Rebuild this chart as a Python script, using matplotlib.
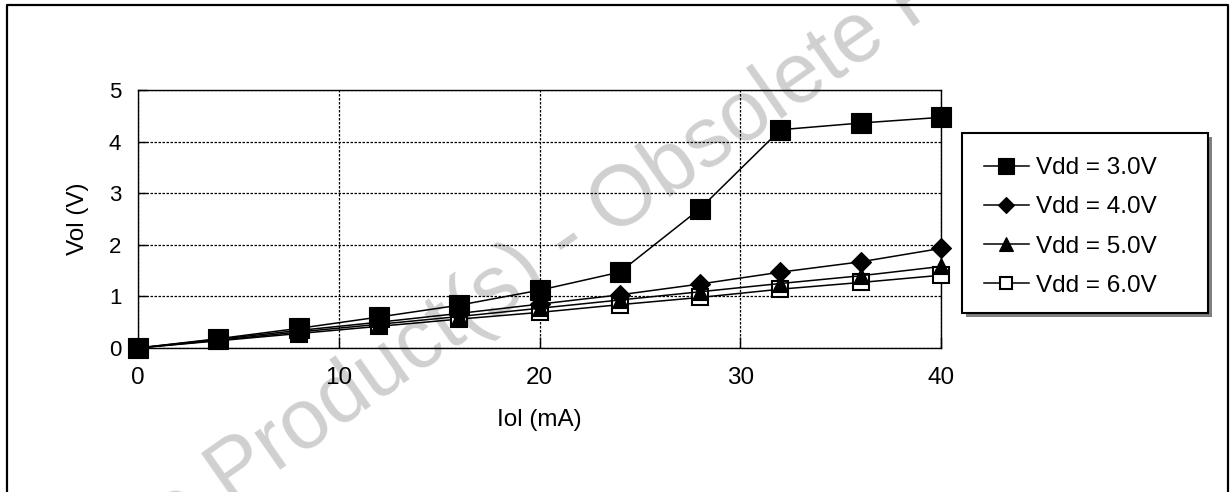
import matplotlib
matplotlib.use('Agg')
import matplotlib.pyplot as plt
from matplotlib.lines import Line2D
from matplotlib.patches import Rectangle

plt.rcParams['font.family'] = ['Liberation Sans', 'DejaVu Sans']

# Iol (mA) vs Vol (V) for each supply voltage
iol = [0, 4, 8, 12, 16, 20, 24, 28, 32, 36, 40]
vol_3v = [0, 0.18, 0.38, 0.60, 0.83, 1.12, 1.47, 2.70, 4.23, 4.36, 4.47]
vol_4v = [0, 0.17, 0.34, 0.50, 0.67, 0.85, 1.03, 1.24, 1.47, 1.67, 1.93]
vol_5v = [0, 0.15, 0.31, 0.46, 0.61, 0.77, 0.93, 1.09, 1.25, 1.40, 1.58]
vol_6v = [0, 0.14, 0.28, 0.42, 0.56, 0.69, 0.84, 0.98, 1.14, 1.27, 1.41]
labels = ['Vdd = 3.0V', 'Vdd = 4.0V', 'Vdd = 5.0V', 'Vdd = 6.0V']
x_ticks = [0, 10, 20, 30, 40]
y_ticks = [0, 1, 2, 3, 4, 5]

W, H = 1231, 492
fig = plt.figure(figsize=(W / 100, H / 100), dpi=100)
fig.patch.set_facecolor('white')

def fx(px):
    return px / W

def fy(py):
    return 1 - py / H

# outer frame (bottom edge falls outside the picture)
fig.add_artist(Line2D([fx(7), fx(7), fx(1228), fx(1228)],
                      [fy(500), fy(5), fy(5), fy(500)],
                      transform=fig.transFigure, color='black', lw=1.6))

# watermark
fig.text(fx(568), fy(241), 'Obsolete Product(s) - Obsolete Product(s)',
         fontsize=61, color='#d0d0d0', rotation=35,
         ha='center', va='center', rotation_mode='anchor', zorder=-5)

ax = fig.add_axes([fx(138), fy(348), (941 - 138) / W, (348 - 90) / H])
ax.set_facecolor('none')

styles = [
    dict(marker='s', ms=14, mfc='black', mew=0.8),
    dict(marker='D', ms=10.5, mfc='black', mew=0.8),
    dict(marker='^', ms=12, mfc='black', mew=0.8),
    dict(marker='s', ms=11.5, mfc='white', mew=1.5),
]
series = [vol_3v, vol_4v, vol_5v, vol_6v]
for i, (ys, lab, st) in enumerate(zip(series, labels, styles)):
    ax.plot(iol, ys, color='black', lw=1.1, mec='black', label=lab,
            clip_on=False, zorder=6 - i, **st)

ax.set_xlim(0, 40)
ax.set_ylim(0, 5)
ax.set_xticks(x_ticks)
ax.set_yticks(y_ticks)
ax.grid(True, color='black', lw=0.9, linestyle=(0, (2, 1.2)))
for s in ax.spines.values():
    s.set_linewidth(1.0)
ax.tick_params(axis='y', direction='in', length=6.5, width=1.0,
               labelsize=16, pad=12)
ax.tick_params(axis='x', direction='in', length=8, width=1.0,
               labelsize=17.5, pad=14)

ax.set_xlabel('Iol (mA)', fontsize=17.5)
ax.xaxis.set_label_coords(0.5, (348 - 420) / 258)
ax.xaxis.label.set_va('center')
ax.set_ylabel('Vol (V)', fontsize=17.5)
ax.yaxis.set_label_coords((78 - 138) / 803, 0.5)
ax.yaxis.label.set_va('center')

# legend box with drop shadow
fig.add_artist(Rectangle((fx(966), fy(317)), (1212 - 966) / W, (317 - 137) / H,
                         transform=fig.transFigure, facecolor='#808080',
                         edgecolor='none', zorder=4))
fig.add_artist(Rectangle((fx(962), fy(313)), (1208 - 962) / W, (313 - 133) / H,
                         transform=fig.transFigure, facecolor='white',
                         edgecolor='black', lw=1.5, zorder=4.5))
handles, _ = ax.get_legend_handles_labels()
leg = fig.legend(handles, labels, loc='center left',
                 bbox_to_anchor=(fx(984), fy(227)),
                 bbox_transform=fig.transFigure, frameon=False, fontsize=17.5,
                 borderpad=0, borderaxespad=0, handlelength=1.85,
                 handletextpad=0.3, labelspacing=0.71, markerscale=0.8)
leg.set_zorder(5)

fig.savefig('out.png', dpi=100, facecolor='white')
